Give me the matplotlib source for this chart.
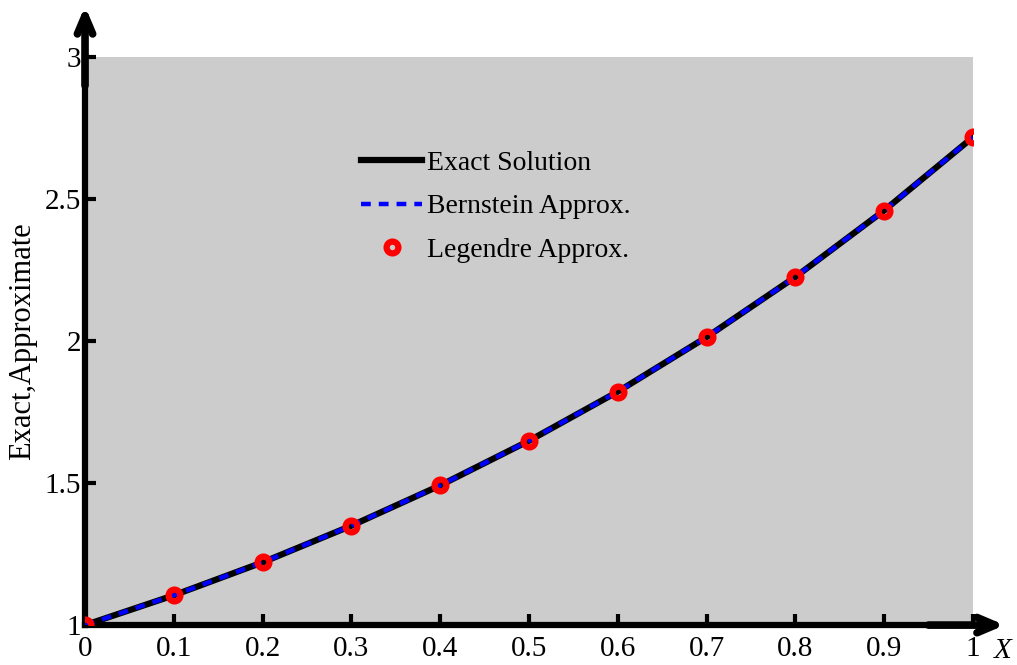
import numpy as np
import matplotlib
matplotlib.use("Agg")
import matplotlib.pyplot as plt
from matplotlib.ticker import FormatStrFormatter

# data
x_vals = [0.0, 0.1, 0.2, 0.3, 0.4, 0.5, 0.6, 0.7, 0.8, 0.9, 1.0]
exact = [1.000, 1.105, 1.221, 1.350, 1.492, 1.649, 1.822, 2.014, 2.226, 2.460, 2.718]
bernstein = [1.000, 1.105, 1.221, 1.350, 1.492, 1.649, 1.822, 2.014, 2.226, 2.460, 2.718]
legendre = [1.000, 1.105, 1.221, 1.350, 1.492, 1.649, 1.822, 2.014, 2.226, 2.460, 2.718]
x_ticks = [0, 0.1, 0.2, 0.3, 0.4, 0.5, 0.6, 0.7, 0.8, 0.9, 1]
y_ticks = [1, 1.5, 2, 2.5, 3]

plt.rcParams['font.family'] = ['Liberation Serif', 'DejaVu Serif']

fig = plt.figure(figsize=(10.17, 6.65), dpi=100)
ax = fig.add_axes([0.0836, 0.060, 0.873, 0.854])
ax.set_facecolor('#cccccc')

ax.plot(x_vals, exact, color='black', lw=4.5, label='Exact Solution', zorder=3)
ax.plot(x_vals, bernstein, color='#0000ff', lw=3.2, ls=(0, (2.2, 1.8)),
        label='Bernstein Approx.', zorder=4)
ax.plot(x_vals, legendre, ls='none', marker='o', ms=8.5, mfc='none',
        mec='red', mew=4.5, label='Legendre Approx.', zorder=5)

ax.set_xlim(0, 1)
ax.set_ylim(1, 3)
ax.set_xticks(x_ticks)
ax.set_yticks(y_ticks)
ax.xaxis.set_major_formatter(FormatStrFormatter('%g'))
ax.yaxis.set_major_formatter(FormatStrFormatter('%g'))
ax.tick_params(direction='in', length=8, width=3, labelsize=21, pad=8)
ax.tick_params(axis='y', pad=3)

for s in ['top', 'right']:
    ax.spines[s].set_visible(False)
for s in ['left', 'bottom']:
    ax.spines[s].set_linewidth(4.5)

# arrow axes
ax.annotate('', xy=(0, 1.09), xytext=(0, 0.95), xycoords='axes fraction',
            arrowprops=dict(arrowstyle='->,head_length=1.3,head_width=0.55',
                            lw=5.5, color='black', shrinkA=0, shrinkB=0))
ax.annotate('', xy=(1.036, 0), xytext=(0.95, 0), xycoords='axes fraction',
            arrowprops=dict(arrowstyle='->,head_length=1.3,head_width=0.55',
                            lw=5.5, color='black', shrinkA=0, shrinkB=0))

ax.set_ylabel('Exact,Approximate', fontsize=22, labelpad=5)
ax.text(1.024, -0.045, 'X', transform=ax.transAxes, fontsize=21,
        style='italic', ha='left', va='center')

leg = ax.legend(loc='upper left', bbox_to_anchor=(0.283, 0.88), frameon=False,
                fontsize=20, handlelength=2.2, handletextpad=0.18,
                labelspacing=0.65)

fig.savefig('out.png', dpi=100)
